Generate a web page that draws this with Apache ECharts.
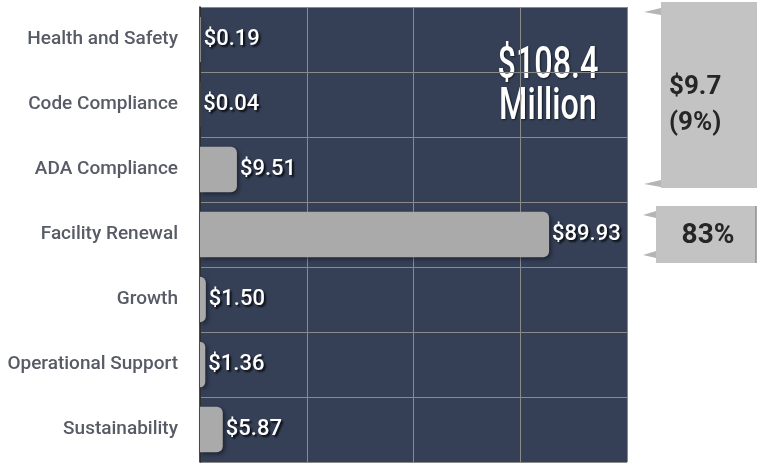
<!DOCTYPE html>
<html>
<head>
<meta charset="utf-8">
<script src="https://cdn.jsdelivr.net/npm/echarts@6/dist/echarts.min.js"></script>
<style>
  html, body { margin: 0; padding: 0; background: #fff; }
  #chart { width: 757px; height: 463px; }
</style>
</head>
<body>
<div id="chart"></div>
<script>
const categories = ['Health and Safety', 'Code Compliance', 'ADA Compliance', 'Facility Renewal', 'Growth', 'Operational Support', 'Sustainability'];
const values = [0.19, 0.04, 9.51, 89.93, 1.50, 1.36, 5.87];
const totalText = '$108.4\nMillion';
const calloutTop = '$9.7\n(9%)';
const calloutMid = '83%';

const font = "Roboto, 'Liberation Sans', sans-serif";
const chart = echarts.init(document.getElementById('chart'), null, { renderer: 'canvas' });

// little wedge on the left side of a callout box
const pointer = (x1, x2, y) => ({
  type: 'polygon',
  shape: { points: [[x2, y - 4], [x1, y], [x2, y + 3]] },
  style: { fill: '#b5b5b5' },
});

chart.setOption({
  animation: false,
  grid: {
    left: 200, top: 7, right: 130, bottom: 1,
    outerBoundsMode: 'none',
    show: true, backgroundColor: '#354057', borderWidth: 0,
  },
  xAxis: {
    type: 'value', min: 0, max: 110, interval: 27.5,
    axisLabel: { show: false }, axisTick: { show: false }, axisLine: { show: false },
    splitLine: { lineStyle: { color: '#8a8a8a', width: 1 } },
  },
  yAxis: {
    type: 'category', inverse: true, data: categories,
    axisTick: { show: false },
    axisLine: { lineStyle: { color: '#111', width: 1.5 } },
    splitLine: { show: true, lineStyle: { color: '#8a8a8a', width: 1 } },
    axisLabel: {
      color: '#575b65', fontSize: 19, fontWeight: 500, margin: 22,
      fontFamily: font,
    },
  },
  series: [{
    type: 'bar',
    data: values,
    barWidth: '70%',
    itemStyle: {
      color: '#a9aaa9',
      borderRadius: [0, 6, 6, 0],
      shadowColor: 'rgba(0,0,0,0.45)', shadowBlur: 4, shadowOffsetX: 2, shadowOffsetY: 2,
    },
    label: {
      show: true, position: 'right', distance: 3,
      formatter: (p) => '$' + p.value.toFixed(2),
      color: '#fff', fontSize: 22, fontWeight: 500, fontFamily: font,
      textShadowColor: 'rgba(0,0,0,0.8)', textShadowBlur: 2, textShadowOffsetX: 2, textShadowOffsetY: 2,
    },
  }],
  graphic: [
    {
      type: 'text', x: 548, y: 46, scaleX: 0.72, originX: 0,
      style: {
        text: totalText, fill: '#fff', fontSize: 45, fontWeight: 500, fontFamily: font,
        align: 'center', lineHeight: 41,
        textShadowColor: 'rgba(0,0,0,0.6)', textShadowBlur: 2, textShadowOffsetX: 1, textShadowOffsetY: 1,
      },
    },
    { type: 'rect', shape: { x: 661, y: 2, width: 96, height: 186 }, style: { fill: '#c3c3c3' } },
    pointer(644, 661, 12),
    pointer(644, 661, 184),
    {
      type: 'text', x: 669, y: 69,
      style: { text: calloutTop, fill: '#262626', fontSize: 26, fontWeight: 'bold', fontFamily: font, lineHeight: 36 },
    },
    { type: 'rect', shape: { x: 656, y: 206, width: 100, height: 57 }, style: { fill: '#c3c3c3' } },
    { type: 'line', shape: { x1: 756, y1: 206, x2: 756, y2: 263 }, style: { stroke: '#8e8e8e', lineWidth: 1.5 } },
    pointer(643, 656, 215),
    pointer(643, 656, 255),
    {
      type: 'text', x: 708, y: 236,
      style: { text: calloutMid, fill: '#262626', fontSize: 28, fontWeight: 'bold', fontFamily: font, align: 'center', verticalAlign: 'middle' },
    },
  ],
});
</script>
</body>
</html>
